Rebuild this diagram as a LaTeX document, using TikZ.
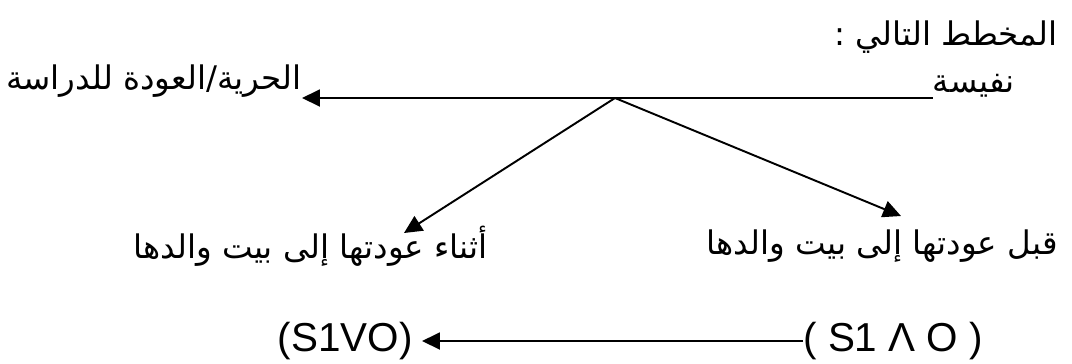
\documentclass[tikz,border=0pt]{standalone}
\usepackage{fontspec}
\setmainfont{Liberation Sans}
\newfontfamily\arabicfont[Script=Arabic]{DejaVu Sans}
\TeXXeTstate=1
\usetikzlibrary{arrows.meta,positioning}
\tikzset{ar/.style={font=\arabicfont\fontsize{18.5}{22}\selectfont, inner sep=0pt}}
\tikzset{lt/.style={font=\fontsize{23}{28}\selectfont, inner sep=0pt}}
\tikzset{k/.style={draw, line width=1.1pt, -{Triangle[length=3.6mm, width=3.4mm]}}}

\begin{document}
\begin{tikzpicture}[x=0.02cm, y=-0.02cm]
  \useasboundingbox (0,0) rectangle (1072,363);
  %%
  \node (title) at (1058,37) [ar, anchor=east] {\beginR المخطط التالي :\endR};
  \node (nafisa) at (1015,98) [ar, anchor=south east] {\beginR نفيسة\endR};
  \node (hurriya) at (302,98) [ar, anchor=south east] {\beginR الحرية/العودة للدراسة\endR};
  \node (qabl) at (1058,246) [ar, anchor=east] {\beginR قبل عودتها إلى بيت والدها\endR};
  \node (athna) at (488,246) [ar, anchor=east] {\beginR أثناء عودتها إلى بيت والدها\endR};
  \coordinate (apex) at (615,98);
  \coordinate (tipL) at (404,233);
  \coordinate (tipR) at (901,216);
  \node (ornode) at (413,341) [lt, anchor=east] {(S1VO)};
  \node (andnode) at (803,341) [lt, anchor=west] {( S1 Λ O )};
  %%
  \path[k] (nafisa.south west) to (hurriya.south east);
  \path[k] (apex) to (tipL);
  \path[k] (apex) to (tipR);
  \path[k] (andnode.west) to ([xshift=0.18cm]ornode.east);
\end{tikzpicture}
\end{document}
